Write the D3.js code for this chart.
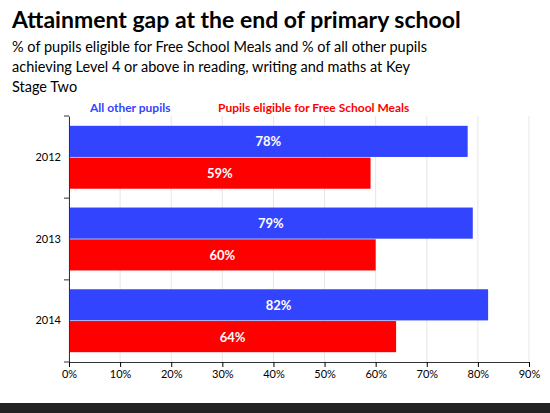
<!DOCTYPE html>
<html><head><meta charset="utf-8">
<script src="https://cdn.jsdelivr.net/npm/d3@7"></script>
<style>body{margin:0;background:#fff}svg{display:block;font-family:Lato,"Open Sans",sans-serif}</style>
</head><body>
<script>
const years = ['2012', '2013', '2014']
const series = ['All other pupils', 'Pupils eligible for Free School Meals']
const otherPupils = [78, 79, 82]
const fsmPupils = [59, 60, 64]
const xTicks = [0, 10, 20, 30, 40, 50, 60, 70, 80, 90]
const colors = ['#3344ff', '#ff0000']

let width = 550, height = 413
let svg = d3.select('body').append('svg').attr('width', width).attr('height', height)

svg.append('text').attr('x', 12).attr('y', 28).style('font-size', '23px').style('font-weight', 'bold')
  .text('Attainment gap at the end of primary school')
let sub = ['% of pupils eligible for Free School Meals and % of all other pupils',
  'achieving Level 4 or above in reading, writing and maths at Key', 'Stage Two']
sub.forEach((s, i) => svg.append('text').attr('x', 12).attr('y', 52 + i * 20).style('font-size', '14.5px').text(s))

svg.append('text').attr('x', 90).attr('y', 112).attr('fill', colors[0]).style('font-size', '12px').style('font-weight', 'bold').text(series[0])
svg.append('text').attr('x', 218).attr('y', 112).attr('fill', colors[1]).style('font-size', '12px').style('font-weight', 'bold').text(series[1])

let x = d3.scaleLinear().domain([0, 90]).range([69, 529])
let y = d3.scaleBand().domain(years).range([116, 362]).paddingInner(0.23).paddingOuter(0.12)
let ySub = d3.scaleBand().domain([0, 1]).range([0, y.bandwidth()]).paddingInner(0.02)

svg.append('g').selectAll('line').data(xTicks).join('line')
  .attr('x1', d => x(d)).attr('x2', d => x(d)).attr('y1', 116).attr('y2', 362)
  .attr('stroke', '#e6e6e6')

let data = years.map((yr, i) => ({ yr, vals: [otherPupils[i], fsmPupils[i]] }))
let g = svg.append('g').selectAll('g').data(data).join('g')
  .attr('transform', d => `translate(0,${y(d.yr)})`)
g.selectAll('rect').data(d => d.vals).join('rect')
  .attr('x', x(0)).attr('y', (d, i) => ySub(i)).attr('width', d => x(d) - x(0)).attr('height', ySub.bandwidth())
  .attr('fill', (d, i) => colors[i])
g.selectAll('text').data(d => d.vals).join('text')
  .attr('x', d => (x(0) + x(d)) / 2).attr('y', (d, i) => ySub(i) + ySub.bandwidth() / 2 + 5)
  .attr('text-anchor', 'middle').attr('fill', '#fff').style('font-size', '13px').style('font-weight', 'bold')
  .text(d => d + '%')

let xAxis = svg.append('g').attr('transform', 'translate(0,362)')
  .call(d3.axisBottom(x).tickValues(xTicks).tickFormat(d => d + '%').tickSize(5))
xAxis.selectAll('text').style('font-size', '11px').style('font-family', 'Lato,sans-serif')
xAxis.select('.domain').attr('stroke', '#333')

let yAxis = svg.append('g').attr('transform', 'translate(69,0)')
  .call(d3.axisLeft(y).tickSize(0).tickPadding(8))
yAxis.selectAll('text').style('font-size', '11px').style('font-family', 'Lato,sans-serif')
yAxis.select('.domain').attr('stroke', '#333')
let bounds = [116].concat(years.map(d => y(d) + y.step() - y.step() * 0.23 / 2 + y.step() * 0.115 - y.step() * 0.115)).slice(0, 3).concat([362])
yAxis.selectAll('.sep').data(bounds).join('line').attr('class', 'sep')
  .attr('x1', -5).attr('x2', 0).attr('y1', d => d).attr('y2', d => d).attr('stroke', '#333')

svg.append('rect').attr('x', 0).attr('y', 403).attr('width', width).attr('height', 10).attr('fill', '#222')
</script>
</body></html>
